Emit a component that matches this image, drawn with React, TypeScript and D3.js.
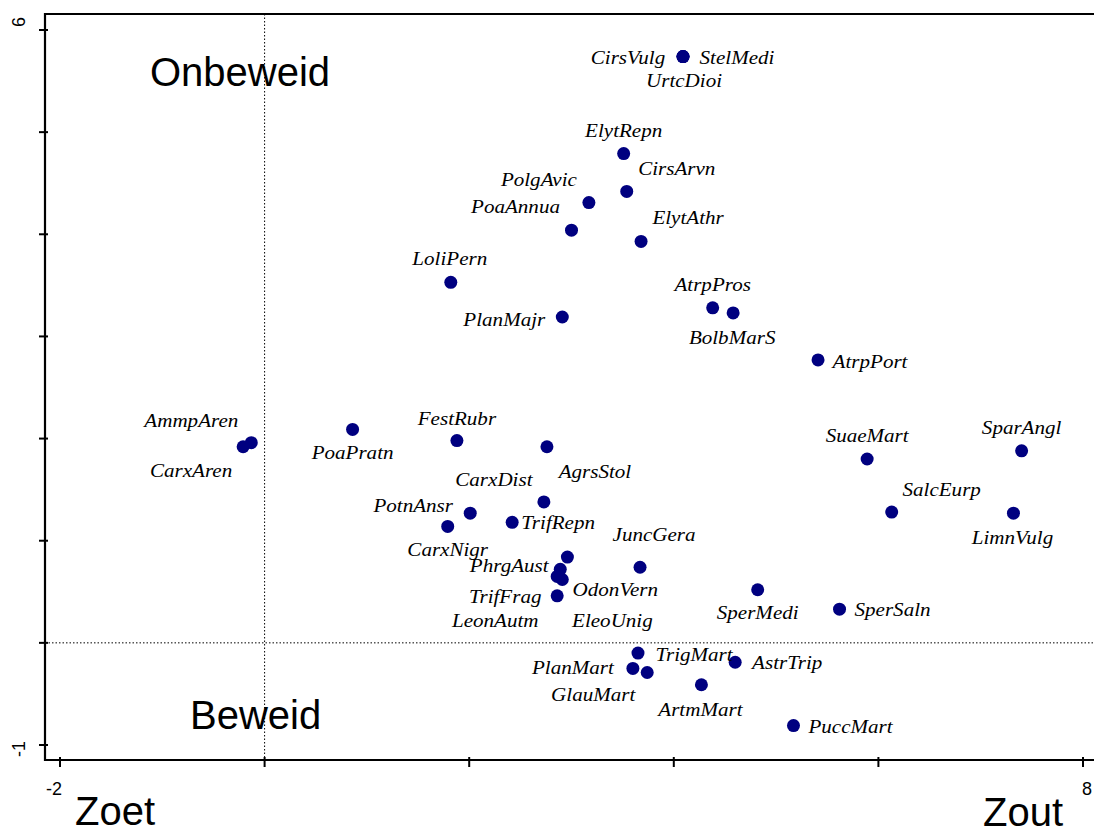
import React from "react";
import * as d3 from "d3";

// ---- data ----
const species = [
  "CirsVulg", "StelMedi", "UrtcDioi", "ElytRepn", "CirsArvn", "PolgAvic", "PoaAnnua", "ElytAthr",
  "LoliPern", "PlanMajr", "AtrpPros", "BolbMarS", "AtrpPort", "AmmpAren", "CarxAren", "PoaPratn",
  "FestRubr", "AgrsStol", "CarxDist", "PotnAnsr", "CarxNigr", "TrifRepn", "JuncGera", "PhrgAust",
  "OdonVern", "TrifFrag", "LeonAutm", "EleoUnig", "SuaeMart", "SparAngl", "SalcEurp", "LimnVulg",
  "SperMedi", "SperSaln", "TrigMart", "PlanMart", "GlauMart", "AstrTrip", "ArtmMart", "PuccMart",
];
const axis1 = [
  4.09, 4.09, 4.09, 3.51, 3.54, 3.17, 3.0, 3.68,
  1.82, 2.91, 4.38, 4.58, 5.41, -0.13, -0.21, 0.86,
  1.88, 2.76, 2.73, 2.01, 1.79, 2.42, 3.67, 2.89,
  2.91, 2.86, 2.86, 2.96, 5.89, 7.4, 6.13, 7.32,
  4.82, 5.62, 3.65, 3.6, 3.74, 4.6, 4.27, 5.17,
];
const axis2 = [
  5.74, 5.74, 5.74, 4.79, 4.42, 4.31, 4.04, 3.93,
  3.53, 3.19, 3.28, 3.23, 2.77, 1.96, 1.92, 2.09,
  1.98, 1.92, 1.38, 1.27, 1.14, 1.18, 0.74, 0.72,
  0.62, 0.46, 0.65, 0.84, 1.8, 1.88, 1.28, 1.27,
  0.52, 0.33, -0.1, -0.25, -0.29, -0.19, -0.41, -0.81,
];
const xTickValues = [-2, 0, 2, 4, 6, 8];
const yTickValues = [-1, 0, 1, 2, 3, 4, 5, 6];
const xTickLabels = ["-2", "8"];
const yTickLabels = ["-1", "6"];
const regionLabels = ["Onbeweid", "Beweid", "Zoet", "Zout"];

// ---- layout: label offsets (px) relative to each point ----
const labelOffsets: [number, number][] = [
  [-55, 7], [54, 7], [1, 30], [0, -17], [50, -16], [-50, -17], [-56, -17], [47, -17],
  [-1, -17], [-58, 9], [0, -17], [-1, 31], [52, 8], [-60, -16], [-52, 30], [0, 30],
  [0, -16], [48, 31], [-50, -16], [-57, -1], [0, 30], [46, 7], [14, -26], [-51, 3],
  [53, 16], [-52, 7], [-62, 51], [45, 70], [0, -17], [0, -17], [50, -16], [-1, 31],
  [0, 29], [53, 7], [56, 8], [-60, 6], [-54, 29], [52, 7], [-1, 31], [57, 7],
];

const W = 1094;
const H = 834;

export default function App() {
  const x = d3.scaleLinear().domain([-2, 8]).range([60, 1083]);
  const y = d3.scaleLinear().domain([-1, 6]).range([745, 30]);
  const left = 45;
  const top = 14;
  const bottom = 760;
  const right = 1098;

  const points = species.map((name, i) => ({ name, x: axis1[i], y: axis2[i], off: labelOffsets[i] }));
  const sans = "Liberation Sans, Arial, sans-serif";

  return (
    <div style={{ position: "absolute", left: 0, top: 0 }}>
      <svg width={W} height={H} style={{ display: "block", background: "#fff" }}>
        {/* dotted zero lines */}
        <line x1={x(0)} x2={x(0)} y1={top} y2={bottom} stroke="#000" strokeWidth={1} strokeDasharray="1.5,2" />
        <line x1={left} x2={right} y1={y(0)} y2={y(0)} stroke="#000" strokeWidth={1} strokeDasharray="1.5,2" />

        {/* frame */}
        <path d={`M${right},${top}H${left}V${bottom}H${right}`} fill="none" stroke="#000" strokeWidth={2.2} />

        {/* ticks */}
        {xTickValues.map((v) => (
          <line key={"xt" + v} x1={x(v)} x2={x(v)} y1={bottom - 3} y2={bottom + 7} stroke="#000" strokeWidth={2} />
        ))}
        {yTickValues.map((v) => (
          <line key={"yt" + v} x1={left - 6} x2={left + 3} y1={y(v)} y2={y(v)} stroke="#000" strokeWidth={2} />
        ))}

        {/* tick labels */}
        {xTickLabels.map((t, i) => (
          <text
            key={"xl" + t}
            x={x(+t) + (i === 0 ? -6 : 4)}
            y={795}
            textAnchor="middle"
            fontFamily={sans}
            fontSize={18}
          >
            {t}
          </text>
        ))}
        {yTickLabels.map((t, i) => (
          <text
            key={"yl" + t}
            transform={`translate(${25},${y(+t) + (i === 0 ? 4 : -8)}) rotate(-90)`}
            textAnchor="middle"
            fontFamily={sans}
            fontSize={18}
          >
            {t}
          </text>
        ))}

        {/* points */}
        {points.map((p) => (
          <circle key={"c" + p.name} cx={x(p.x)} cy={y(p.y)} r={6.5} fill="#000080" />
        ))}
        {points.map((p) => (
          <text
            key={"t" + p.name}
            transform={`translate(${x(p.x) + p.off[0]},${y(p.y) + p.off[1]}) scale(1.17,1)`}
            textAnchor="middle"
            fontFamily="Liberation Serif, Times New Roman, serif"
            fontStyle="italic"
            fontSize={18}
            fill="#000"
          >
            {p.name}
          </text>
        ))}

        {/* region labels */}
        <text x={150} y={86} fontFamily={sans} fontSize={40}>{regionLabels[0]}</text>
        <text x={190} y={729} fontFamily={sans} fontSize={40}>{regionLabels[1]}</text>
        <text x={75} y={825} fontFamily={sans} fontSize={40}>{regionLabels[2]}</text>
        <text x={983} y={826} fontFamily={sans} fontSize={40}>{regionLabels[3]}</text>
      </svg>
    </div>
  );
}
